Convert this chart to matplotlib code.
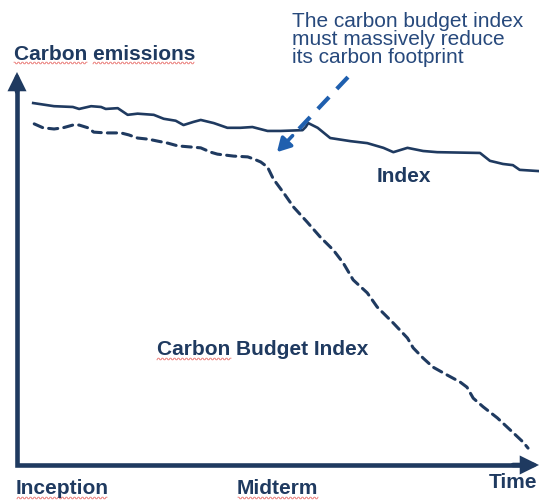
import numpy as np
import matplotlib
matplotlib.use("Agg")
import matplotlib.pyplot as plt
from matplotlib.lines import Line2D

# values (time 0-100, emissions 0-100)
index_t = [3.1, 7.1, 10.7, 11.9, 14.2, 16.1, 17.0, 19.3, 21.2, 23.1, 26.2, 28.1,
           30.4, 31.9, 33.8, 35.2, 37.7, 40.3, 42.8, 45.1, 48.0, 50.5, 54.7, 55.3,
           55.8, 57.6, 60.0, 63.9, 67.1, 70.2, 72.1, 74.8, 77.8, 80.5, 88.7, 90.6,
           93.1, 95.0, 96.3, 99.8]
index_e = [92.1, 91.3, 91.1, 90.6, 91.3, 91.1, 90.6, 90.8, 89.1, 89.4, 89.1, 88.1,
           87.6, 86.5, 87.3, 87.8, 87.0, 85.8, 85.8, 86.0, 85.0, 85.0, 85.2, 86.0,
           87.0, 85.8, 83.2, 82.4, 81.9, 80.7, 79.6, 80.7, 79.9, 79.6, 79.4, 77.4,
           76.6, 76.3, 75.1, 74.8]

budget_t = [3.3, 5.0, 7.1, 8.8, 10.7, 11.9, 13.6, 14.7, 17.0, 19.9, 21.4, 23.1,
            25.2, 27.0, 28.9, 30.8, 35.2, 37.1, 38.4, 41.5, 44.2, 45.3, 46.7, 48.0,
            49.1, 51.1, 53.0, 55.6, 58.1, 60.6, 62.5, 64.4, 67.1, 69.0, 72.1, 74.8,
            75.9, 77.8, 79.7, 82.4, 84.9, 86.2, 87.4, 89.3, 92.0, 94.5, 96.9, 97.9]
budget_e = [86.8, 85.8, 85.5, 85.8, 86.5, 86.5, 85.8, 84.7, 84.5, 84.5, 84.0, 83.2,
            82.9, 82.4, 81.9, 81.2, 80.7, 79.6, 79.1, 78.6, 78.4, 77.9, 77.1, 75.8,
            72.8, 69.2, 65.6, 61.8, 58.0, 54.7, 51.4, 47.1, 43.8, 40.2, 36.1, 32.3,
            29.8, 27.2, 24.9, 22.9, 21.1, 19.8, 17.0, 14.8, 12.0, 8.9, 5.9, 4.3]

note_lines = ["The carbon budget index", "must massively reduce", "its carbon footprint"]
note_start = (63.4, 98.7)
note_tip = (49.8, 79.6)

NAVY = "#1f3a60"
NOTE = "#27497c"
ARROW = "#1f5fae"
W, H = 539, 500

plt.rcParams["font.family"] = ["Liberation Sans", "DejaVu Sans"]
fig = plt.figure(figsize=(W / 100, H / 100), dpi=100)
ax = fig.add_axes([17 / W, 35 / H, 522 / W, 393 / H])
ax.set_xlim(0, 100)
ax.set_ylim(0, 100)
ax.axis("off")

# axes: one L-shaped line with a square corner, then the two heads
ax.plot([0, 0, 0.97], [0.97, 0, 0], transform=ax.transAxes, color=NAVY,
        lw=3.3, solid_joinstyle="miter", solid_capstyle="butt", clip_on=False)
arrow_kw = dict(arrowstyle="-|>,head_length=0.85,head_width=0.42", lw=3.3,
                color=NAVY, shrinkA=0, shrinkB=0, joinstyle="miter")
ax.annotate("", xy=(0, 1), xytext=(0, 0.95), xycoords="axes fraction",
            arrowprops=arrow_kw, annotation_clip=False)
ax.annotate("", xy=(1, 0), xytext=(0.95, 0), xycoords="axes fraction",
            arrowprops=arrow_kw, annotation_clip=False)

ax.plot(index_t, index_e, color=NAVY, lw=1.9, solid_joinstyle="round")
ax.plot(budget_t, budget_e, color=NAVY, lw=2.2, dashes=(3.0, 2.0),
        dash_capstyle="round")

# dashed callout arrow
mid = (note_tip[0] + 0.22 * (note_start[0] - note_tip[0]),
       note_tip[1] + 0.22 * (note_start[1] - note_tip[1]))
ax.plot([note_start[0], mid[0]], [note_start[1], mid[1]], color=ARROW,
        lw=3.0, dashes=(3.9, 2.7))
ax.annotate("", xy=note_tip, xytext=mid,
            arrowprops=dict(arrowstyle="-|>,head_length=0.8,head_width=0.45",
                            lw=2.6, color=ARROW, shrinkA=0, shrinkB=0))


def label(x, y, s, **kw):
    fig.text(x / W, 1 - y / H, s, va="baseline", ha="left", fontsize=15, **kw)


label(14, 60, "Carbon emissions", color=NAVY, fontweight="bold")
for i, line in enumerate(note_lines):
    label(292, 27 + 18 * i, line, color=NOTE)
label(377, 182, "Index", color=NAVY, fontweight="bold")
label(157, 355, "Carbon Budget Index", color=NAVY, fontweight="bold")
label(16, 494, "Inception", color=NAVY, fontweight="bold")
label(237, 494, "Midterm", color=NAVY, fontweight="bold")
label(489, 488, "Time", color=NAVY, fontweight="bold")


# red spell-check squiggles under some words
def squiggle(x0, x1, y):
    xs = np.arange(x0, x1, 1.0)
    ys = y + 0.8 * np.where((xs // 2) % 2 == 0, 1, -1)
    fig.add_artist(Line2D(xs / W, 1 - ys / H, color="#e8706c", lw=0.6))


for x0, x1, y in [(14, 88, 63), (93, 195, 63), (157, 232, 359),
                  (17, 108, 498), (238, 319, 498)]:
    squiggle(x0, x1, y)

fig.savefig("out.png", dpi=100)
